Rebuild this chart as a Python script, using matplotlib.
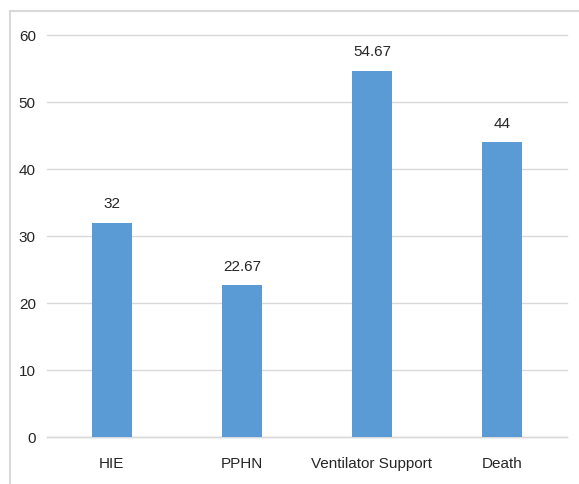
import matplotlib.pyplot as plt
from matplotlib.patches import Rectangle

categories = ['HIE', 'PPHN', 'Ventilator Support', 'Death']
values = [32, 22.67, 54.67, 44]
value_labels = ['32', '22.67', '54.67', '44']
y_ticks = [0, 10, 20, 30, 40, 50, 60]

plt.rcParams['font.family'] = ['Liberation Sans', 'DejaVu Sans']

fig = plt.figure(figsize=(5.79, 4.85), dpi=100)
ax = fig.add_axes([0.081, 0.097, 0.898, 0.829])

# outer chart frame (only top and left visible in reference)
fig.patches.append(Rectangle((10 / 579, -0.1), 2, 1.1 - 12 / 485,
                             transform=fig.transFigure, fill=False,
                             edgecolor='#D9D9D9', linewidth=1.5))

x = range(len(categories))
ax.bar(x, values, width=0.31, color='#5B9BD5', zorder=3)

for xi, v, lab in zip(x, values, value_labels):
    ax.annotate(lab, (xi, v), xytext=(0, 9), textcoords='offset points',
                ha='center', va='bottom', fontsize=11, color='#262626')

ax.set_xlim(-0.5, len(categories) - 0.5)
ax.set_ylim(0, 60)
ax.set_yticks(y_ticks)
ax.set_xticks(list(x))
ax.set_xticklabels(categories)
ax.tick_params(axis='both', length=0, labelsize=11, colors='#262626')
ax.tick_params(axis='y', pad=8)
ax.tick_params(axis='x', pad=14)
ax.grid(axis='y', color='#D9D9D9', linewidth=1.0, zorder=0)
for line in ax.get_ygridlines():
    line.set_clip_on(False)
for side in ['top', 'right', 'left']:
    ax.spines[side].set_visible(False)
ax.spines['bottom'].set_color('#D9D9D9')
ax.spines['bottom'].set_linewidth(1.0)

fig.savefig('out.png', dpi=100)
